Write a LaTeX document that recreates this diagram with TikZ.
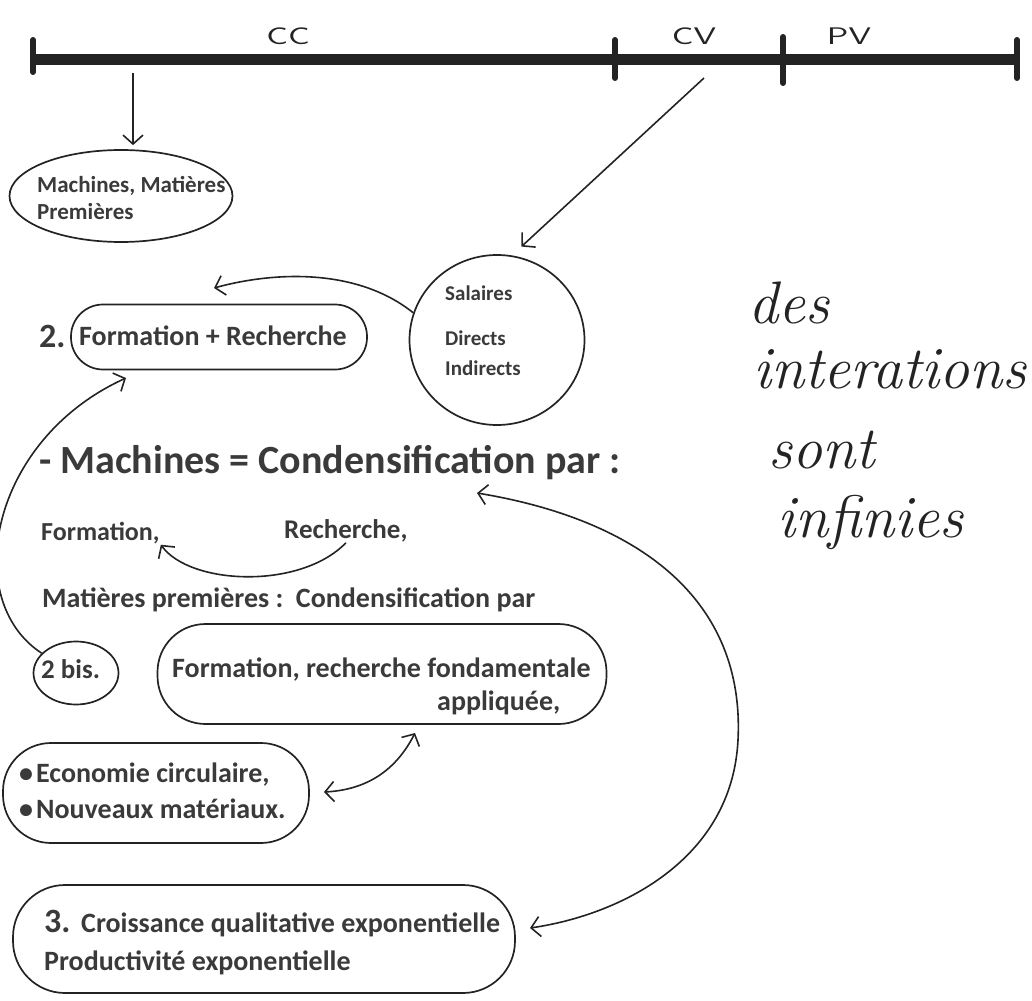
\documentclass[tikz,border=0pt]{standalone}
\usepackage{fontspec}
\newfontfamily\printfont{Carlito}
\usetikzlibrary{shapes.geometric,arrows.meta}
\definecolor{ink}{HTML}{232323}
\definecolor{type}{HTML}{3A3A3A}
\newcommand\fsz[1]{\fontsize{#1}{#1}\selectfont}
\tikzset{
	shp/.style={draw=ink, line width=1.7pt},
	ell/.style={shp, ellipse, inner sep=0pt},
	blob/.style={shp, rectangle, rounded corners=#1, inner sep=0pt},
	txt/.style={anchor=base west, inner sep=1pt, text=type, font=\printfont\bfseries\fsz{#1}},
	txt/.default=28,
	hand/.style={anchor=base west, inner sep=0pt, text=ink, font=\itshape\fsz{60}},
	lab/.style={anchor=base, inner sep=0pt, text=ink, font=\sffamily\fsz{24}},
	arr/.style={->, draw=ink, line width=1.6pt, >={Straight Barb[length=9pt,width=20pt]}},
	arrb/.style={arr, <->}
}
\begin{document}
\begin{tikzpicture}[x=1pt,y=-1pt]
	\useasboundingbox (0,0) rectangle (1032,1000);

	\draw[line width=11pt, ink] (33,60)--(1017,60);
	\foreach \x/\a/\b in {33/40/72, 615/40/78, 783/37/83, 1017/40/78}
		\draw[line width=6pt, ink, line cap=round] (\x,\a)--(\x,\b);

	\node[lab] (cc) at (288,45) {\scalebox{1.5}[1]{CC}};
	\node[lab] (cv) at (694,45) {\scalebox{1.5}[1]{CV}};
	\node[lab] (pv) at (849,45) {\scalebox{1.5}[1]{PV}};

	\node[ell, minimum width=223pt, minimum height=92pt] (mp) at (121,196) {};
	\node[txt=23] (mp1) at (36,193) {Machines, Matières};
	\node[txt=23] (mp2) at (36,220) {Premières};

	\node[ell, minimum width=175pt, minimum height=170pt] (sal) at (497,340) {};
	\node[txt=21] (sal1) at (444,300) {Salaires};
	\node[txt=21] (sal2) at (444,345) {Directs};
	\node[txt=21] (sal3) at (444,375) {Indirects};

	\node[txt=34] (n2) at (38,347) {2.};
	\node[blob=32pt, minimum width=296pt, minimum height=65pt] (fr) at (219,337) {};
	\node[txt] (frt) at (78,345) {Formation + Recherche};

	\node[txt=40] (mach) at (38,473) {- Machines = Condensification par :};
	\node[txt=26] (form) at (40,540) {Formation,};
	\node[txt=27] (rech) at (283,538) {Recherche,};
	\node[txt] (mat) at (41,607) {Matières premières :\ \ Condensification par};

	\node[ell, minimum width=85pt, minimum height=63pt] (bis) at (76,673) {};
	\node[txt=27] (bist) at (40,678) {2 bis.};

	\node[blob=48pt, minimum width=449pt, minimum height=100pt] (frf) at (382,674) {};
	\node[txt] (frf1) at (171,677) {Formation, recherche fondamentale};
	\node[txt] (frf2) at (436,710) {appliquée,};

	\node[blob=48pt, minimum width=306pt, minimum height=100pt] (eco) at (156,793) {};
	\node[txt] (eco1) at (18,782) {\textbullet\hspace{3pt}Economie circulaire,};
	\node[txt] (eco2) at (18,818) {\textbullet\hspace{3pt}Nouveaux matériaux.};

	\node[blob=52pt, minimum width=502pt, minimum height=108pt] (cro) at (264,939) {};
	\node[txt=34] (n3) at (43,932) {3.};
	\node[txt] (cro1) at (80,932) {Croissance qualitative exponentielle};
	\node[txt] (cro2) at (43,970) {Productivité exponentielle};

	\node[hand] (des) at (748,323) {des};
	\node[hand] (inter) at (753,388) {interations};
	\node[hand] (sont) at (768,468) {sont};
	\node[hand] (inf) at (777,537) {infinies};

	\coordinate (ccfoot) at (133,73);
	\coordinate (cvfoot) at (704,78);
	\coordinate (frin) at (214,288);
	\coordinate (frlow) at (126,378);
	\coordinate (frfin) at (415,733);
	\coordinate (ecoin) at (324,792);
	\coordinate (machin) at (477,493);
	\coordinate (croin) at (530,928);

	\draw[arr, shorten >=4pt] (ccfoot) -- (ccfoot |- mp.north);
	\draw[arr, shorten >=13pt] (cvfoot) -- (sal.80);
	\draw[arr] (sal.162) .. controls (360,270) and (280,270) .. (frin);
	\draw[arr] (bis.150) .. controls (-40,600) and (-10,440) .. (frlow);
	\draw[arr] (rech.south) .. controls (300,590) and (190,585) .. (form.south east);
	\draw[arrb] (ecoin) to[bend right=30] (frfin);
	\draw[arrb] (machin) .. controls (640,520) and (745,600) .. (738,740) .. controls (732,860) and (620,915) .. (croin);

\end{tikzpicture}
\end{document}
